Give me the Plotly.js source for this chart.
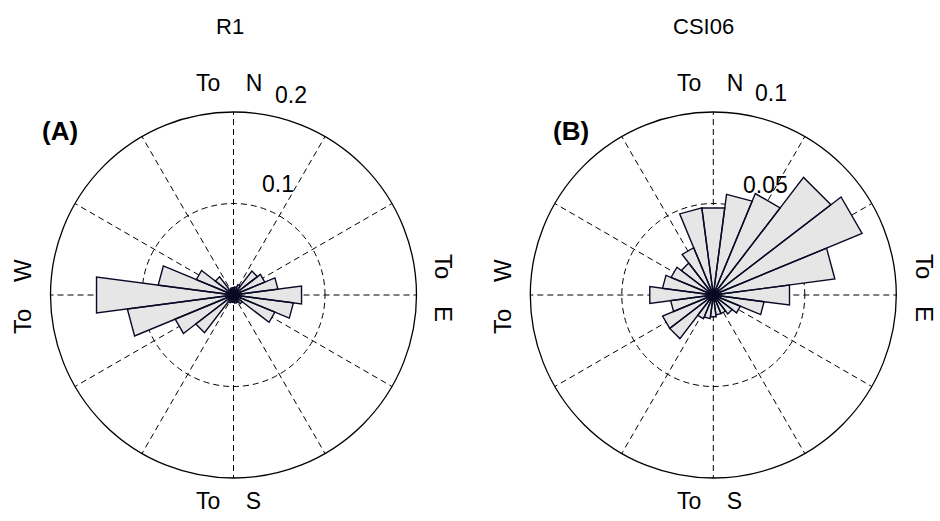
<!DOCTYPE html>
<html>
<head>
<meta charset="utf-8">
<script src="https://cdn.plot.ly/plotly-3.0.1.min.js"></script>
<style>html,body{margin:0;padding:0;background:#fff;}#chart{width:940px;height:521px;}</style>
</head>
<body>
<div id="chart"></div>
<script>
// ---- data (bin centres in degrees, math convention: 0 = To E, 90 = To N) ----
const binCenters = [0, 15, 30, 45, 60, 75, 90, 105, 120, 135, 150, 165,
                    180, 195, 210, 225, 240, 255, 270, 285, 300, 315, 330, 345];
const binWidth = 15;
const r1Values = [0.075, 0.049, 0.037, 0.033, 0.012, 0.009, 0.008, 0.008, 0.007, 0.025, 0.044, 0.083,
                  0.151, 0.117, 0.069, 0.052, 0.009, 0.008, 0.008, 0.009, 0.009, 0.012, 0.049, 0.066];
const csi06Values = [0.042, 0.067, 0.088, 0.081, 0.060, 0.0555, 0.048, 0.048, 0.028, 0.022, 0.025, 0.028,
                     0.035, 0.0235, 0.030, 0.030, 0.014, 0.013, 0.012, 0.011, 0.011, 0.013, 0.016, 0.028];
const panelTitles = ['R1', 'CSI06'];
const panelLetters = ['(A)', '(B)'];
const r1RadialTicks = [0.1, 0.2];
const csi06RadialTicks = [0.05, 0.1];
const dirNorth = 'To\u00a0\u00a0\u00a0\u00a0N';
const dirSouth = 'To\u00a0\u00a0\u00a0\u00a0S';
const dirWest = 'To\u00a0\u00a0\u00a0\u00a0W';
const dirEast = 'To\u00a0\u00a0\u00a0\u00a0E';

function roseTrace(values, subplot) {
  const r = [], theta = [];
  values.forEach((v, i) => {
    const c = binCenters[i];
    r.push(0, v, v, 0, null);
    theta.push(c, c - binWidth / 2, c + binWidth / 2, c, null);
  });
  return {
    type: 'scatterpolar', subplot: subplot, mode: 'lines', fill: 'toself',
    r: r, theta: theta, connectgaps: false,
    fillcolor: '#e6e6e6',
    line: {color: '#0a0a26', width: 1.4},
    hoverinfo: 'skip', showlegend: false
  };
}

const FONT = 'Liberation Sans, Arial, Helvetica, sans-serif';
const dash = '6px,4px';

function polarLayout(xd, maxR, gridR) {
  return {
    domain: {x: xd, y: [0.0825, 0.785]},
    bgcolor: '#ffffff',
    radialaxis: {
      range: [0, maxR], tickvals: [gridR], showticklabels: false, ticks: '',
      showline: false, gridcolor: '#000000', griddash: dash, gridwidth: 1,
      layer: 'below traces'
    },
    angularaxis: {
      rotation: 0, direction: 'counterclockwise', tickmode: 'linear', tick0: 0, dtick: 30,
      showticklabels: false, ticks: '', showline: true, linecolor: '#000000', linewidth: 1.3,
      gridcolor: '#000000', griddash: dash, gridwidth: 1, layer: 'below traces'
    }
  };
}

function ann(text, x, y, size, extra) {
  return Object.assign({
    text: text, x: x, y: y, xref: 'paper', yref: 'paper', showarrow: false,
    xanchor: 'center', yanchor: 'middle', font: {family: FONT, size: size, color: '#000'}
  }, extra || {});
}

const annotations = [
  ann(panelTitles[0], 230 / 940, 1 - 26 / 521, 22),
  ann(panelTitles[1], 703 / 940, 1 - 26 / 521, 22),
  ann('<b>' + panelLetters[0] + '</b>', 60 / 940, 1 - 131 / 521, 26),
  ann('<b>' + panelLetters[1] + '</b>', 571 / 940, 1 - 131 / 521, 26),
  // left panel direction labels
  ann(dirNorth, 228.5 / 940, 1 - 83 / 521, 23),
  ann(dirSouth, 228 / 940, 1 - 501 / 521, 23),
  ann(dirWest, 22 / 940, 1 - 297 / 521, 24, {textangle: -90}),
  ann(dirEast, 444 / 940, 1 - 288 / 521, 24, {textangle: 90}),
  // right panel direction labels
  ann(dirNorth, 710 / 940, 1 - 83 / 521, 23),
  ann(dirSouth, 709 / 940, 1 - 501 / 521, 23),
  ann(dirWest, 502 / 940, 1 - 297 / 521, 24, {textangle: -90}),
  ann(dirEast, 925 / 940, 1 - 288 / 521, 24, {textangle: 90}),
  // radial tick labels
  ann(String(r1RadialTicks[1]), 290.5 / 940, 1 - 95 / 521, 23),
  ann(String(r1RadialTicks[0]), 278 / 940, 1 - 184 / 521, 23),
  ann(String(csi06RadialTicks[1]), 771 / 940, 1 - 93 / 521, 23),
  ann(String(csi06RadialTicks[0]), 765 / 940, 1 - 185 / 521, 23)
];

const layout = {
  width: 940, height: 521,
  margin: {l: 0, r: 0, t: 0, b: 0},
  paper_bgcolor: '#ffffff',
  showlegend: false,
  font: {family: FONT, color: '#000'},
  polar: polarLayout([50.5 / 940, 416.5 / 940], r1RadialTicks[1], r1RadialTicks[0]),
  polar2: polarLayout([530.3 / 940, 896.3 / 940], csi06RadialTicks[1], csi06RadialTicks[0]),
  annotations: annotations
};

Plotly.newPlot('chart', [roseTrace(r1Values, 'polar'), roseTrace(csi06Values, 'polar2')], layout,
  {staticPlot: true, displayModeBar: false});
</script>
</body>
</html>
